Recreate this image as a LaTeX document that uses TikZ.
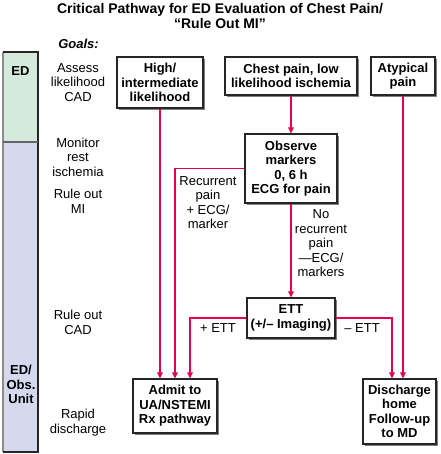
\documentclass[tikz,border=0pt]{standalone}
\usepackage{fontspec}
\setmainfont{Liberation Sans}
\usetikzlibrary{shadows,arrows.meta}

\definecolor{pathred}{RGB}{228,0,80}
\definecolor{edgreen}{RGB}{212,234,220}
\definecolor{obsblue}{RGB}{213,217,238}

\tikzset{
  stepbox/.style={draw=black!85, line width=1.1pt, fill=white, align=center, inner sep=0pt,
    font=\bfseries\fontsize{13}{14.5}\selectfont,
    drop shadow={shadow xshift=2pt, shadow yshift=-2pt, fill=black!50, opacity=1}},
  goal/.style={align=center, font=\fontsize{13}{14.5}\selectfont},
  cond/.style={align=center, font=\fontsize{13}{14.5}\selectfont},
  flow/.style={draw=pathred, line width=1.1pt, -{Triangle[length=6pt,width=5.5pt]}},
}

\begin{document}
\begin{tikzpicture}[x=1pt, y=-1pt]
    \useasboundingbox (0,0) rectangle (440,454);

    % Title
    \node[align=center, font=\bfseries\fontsize{14}{15}\selectfont] (title) at (220,16)
        {Critical Pathway for ED Evaluation of Chest Pain/\\``Rule Out MI''};

    % Setting column
    \fill[edgreen] (3,52) rectangle (38,142);
    \fill[obsblue] (3,142) rectangle (38,452);
    \draw[black!45, line width=1.2pt] (3,52) -- (3,452);
    \draw[black!85, line width=1.2pt] (3,52) -- (38,52) -- (38,452) -- (3,452);
    \draw[black!60, line width=2pt] (3,142) -- (38,142);
    \node[font=\bfseries\fontsize{13}{14.5}\selectfont] (ed) at (20.5,71) {ED};
    \node[align=center, font=\bfseries\fontsize{13}{14.5}\selectfont] (obsunit) at (21,384.5) {ED/\\Obs.\\Unit};

    % Goals
    \node[font=\bfseries\itshape\fontsize{13}{14.5}\selectfont] (goals) at (78.5,44) {Goals:};
    \node[goal] (assess) at (78,82.5) {Assess\\likelihood\\CAD};
    \node[goal] (monitor) at (78,157) {Monitor\\rest\\ischemia};
    \node[goal] (ruleMI) at (78,201.5) {Rule out\\MI};
    \node[goal] (ruleCAD) at (78,322.5) {Rule out\\CAD};
    \node[goal] (rapid) at (78,422.5) {Rapid\\discharge};

    % Boxes
    \node[stepbox, minimum width=86pt, minimum height=51pt] (high) at (160,82.5) {High/\\intermediate\\likelihood};
    \node[stepbox, minimum width=132pt, minimum height=38pt] (low) at (291,76) {Chest pain, low\\likelihood ischemia};
    \node[stepbox, minimum width=64pt, minimum height=38pt] (atyp) at (403,76) {Atypical\\pain};
    \node[stepbox, minimum width=92pt, minimum height=69pt] (observe) at (291,168.5) {Observe\\markers\\0, 6 h\\ECG for pain};
    \node[stepbox, minimum width=88pt, minimum height=40pt] (ett) at (291,318) {ETT\\(+/-- Imaging)};
    \node[stepbox, minimum width=84pt, minimum height=54pt] (admit) at (175,406) {Admit to\\UA/NSTEMI\\Rx pathway};
    \node[stepbox, minimum width=73pt, minimum height=65pt] (discharge) at (399.5,411.5) {Discharge\\home\\Follow-up\\to MD};

    % Pathways
    \draw[flow] (high.south) -- (high.south |- admit.north);
    \draw[flow] (low.south) -- (observe.north);
    \draw[flow] (atyp.south) -- (atyp.south |- discharge.north);
    \draw[flow] (observe.west) -| (admit.north);
    \draw[flow] (observe.south) -- (ett.north);
    \draw[flow] (ett.west) -| ([xshift=15pt]admit.north);
    \draw[flow] (ett.east) -| ([xshift=-7.5pt]discharge.north);

    % Conditions
    \node[cond] (recur) at (208,202.5) {Recurrent\\pain\\+ ECG/\\marker};
    \node[cond] (norecur) at (321,243.5) {No\\recurrent\\pain\\---ECG/\\markers};
    \node[cond] (plusett) at (218,328) {+ ETT};
    \node[cond] (minusett) at (362,328) {-- ETT};
\end{tikzpicture}
\end{document}
